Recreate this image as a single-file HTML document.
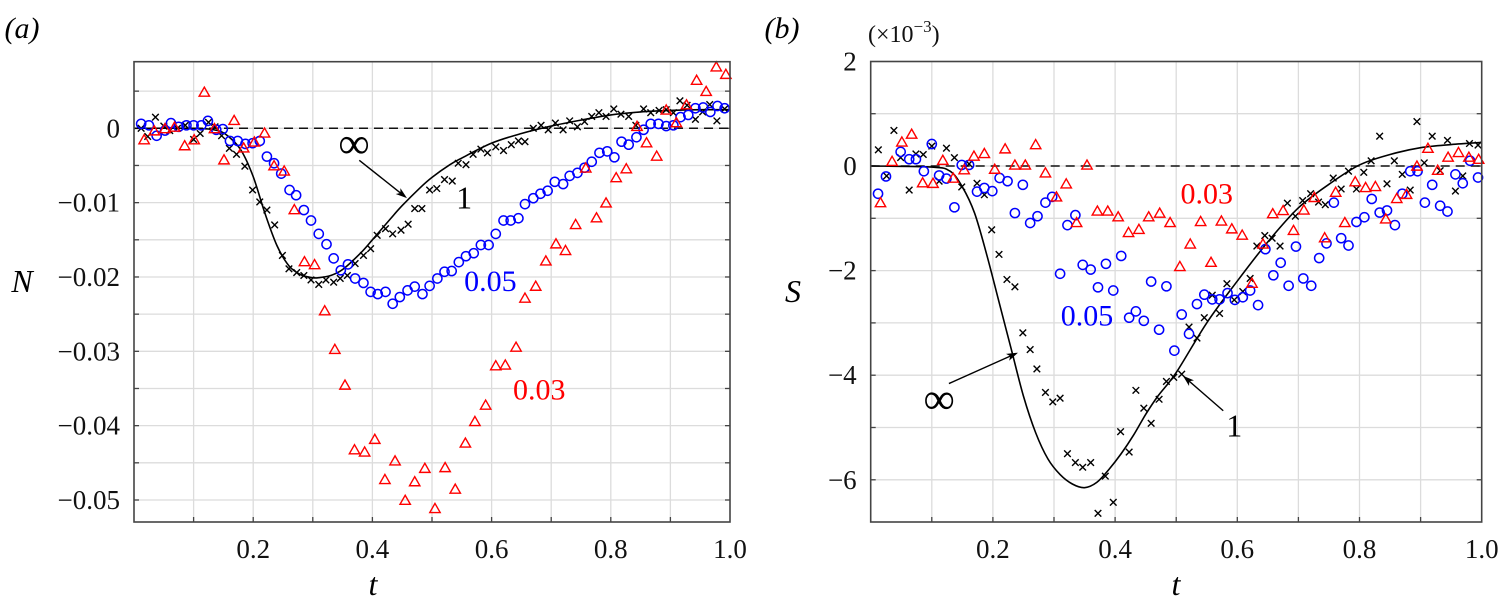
<!DOCTYPE html>
<html><head><meta charset="utf-8"><style>
html,body{margin:0;padding:0;background:#fff;}
svg text{font-family:"Liberation Serif","DejaVu Serif",serif;}
</style></head><body>
<svg id="fig" width="1503" height="611" viewBox="0 0 1503 611" font-family="Liberation Serif, serif"></svg>
<script>
// ---------- Panel (a) data ----------
const aCrossT=[0.012,0.023,0.036,0.05,0.06,0.073,0.086,0.1,0.111,0.125,0.136,0.147,0.16,0.172,0.186,0.199,0.211,0.223,0.236,0.249,0.26,0.273,0.285,0.297,0.31,0.322,0.335,0.346,0.358,0.371,0.385,0.397,0.408,0.422,0.434,0.448,0.46,0.471,0.483,0.496,0.508,0.521,0.534,0.544,0.557,0.569,0.582,0.593,0.607,0.62,0.633,0.645,0.656,0.67,0.683,0.695,0.707,0.72,0.731,0.744,0.756,0.768,0.78,0.792,0.805,0.817,0.83,0.842,0.855,0.867,0.881,0.893,0.905,0.916,0.928,0.942,0.954,0.966,0.978,0.991];
const aCrossV=[0,-0.0011,0.0015,0.0003,-0.0003,0,0.0004,-0.0015,-0.0007,0.0008,0.0002,-0.001,-0.0027,-0.0035,-0.0051,-0.0083,-0.0099,-0.011,-0.013,-0.0171,-0.0189,-0.0194,-0.0198,-0.0204,-0.021,-0.0204,-0.0207,-0.0202,-0.0198,-0.0182,-0.0171,-0.0162,-0.0144,-0.0135,-0.0142,-0.0137,-0.0129,-0.0108,-0.0108,-0.0083,-0.0081,-0.0069,-0.0071,-0.0047,-0.0049,-0.0035,-0.0028,-0.0033,-0.0025,-0.003,-0.0022,-0.0017,-0.0018,0,0.0004,-0.0002,0.0007,-0.0002,0.001,0.0002,0.0009,0.0016,0.0021,0.0016,0.0026,0.0019,0.0016,0.0004,0.0026,0.0021,0.0024,0.0025,0.0021,0.0037,0.0031,0.0012,0.0022,0.0032,0.001,0.0026];
const aCircT=[0.012,0.025,0.038,0.052,0.062,0.075,0.088,0.1,0.113,0.124,0.138,0.149,0.161,0.174,0.187,0.199,0.211,0.223,0.235,0.247,0.261,0.272,0.285,0.297,0.31,0.323,0.335,0.347,0.359,0.371,0.385,0.397,0.409,0.422,0.434,0.446,0.459,0.471,0.484,0.496,0.509,0.521,0.533,0.545,0.557,0.57,0.582,0.595,0.607,0.62,0.632,0.645,0.656,0.67,0.682,0.694,0.706,0.72,0.731,0.744,0.756,0.768,0.781,0.794,0.806,0.818,0.83,0.843,0.855,0.867,0.88,0.893,0.905,0.917,0.93,0.942,0.955,0.967,0.979,0.991];
const aCircV=[0.0006,0.0004,-0.001,-0.0003,0.0007,0.0002,0.0004,0.0004,0.0004,0.001,-0.0002,-0.0001,-0.0017,-0.0017,-0.0021,-0.002,-0.0017,-0.0038,-0.0047,-0.0061,-0.0083,-0.009,-0.011,-0.0124,-0.0142,-0.0156,-0.0175,-0.0191,-0.0183,-0.0202,-0.0208,-0.022,-0.0223,-0.022,-0.0236,-0.0227,-0.0218,-0.0213,-0.0223,-0.0212,-0.0202,-0.0193,-0.0192,-0.018,-0.0172,-0.0168,-0.0157,-0.0157,-0.0142,-0.0124,-0.0124,-0.0121,-0.0102,-0.0094,-0.0088,-0.0084,-0.0072,-0.0075,-0.0064,-0.006,-0.0053,-0.0045,-0.0033,-0.0031,-0.0039,-0.0018,-0.0022,-0.0012,-0.0002,0.0006,0.0006,0.0003,0.0004,0.0015,0.0018,0.0027,0.0028,0.0022,0.003,0.0027];
const aTriT=[0.017,0.034,0.052,0.068,0.085,0.101,0.118,0.135,0.151,0.168,0.184,0.202,0.219,0.235,0.252,0.269,0.286,0.303,0.32,0.337,0.354,0.37,0.387,0.404,0.421,0.438,0.455,0.471,0.488,0.505,0.522,0.539,0.556,0.572,0.59,0.607,0.623,0.641,0.656,0.674,0.691,0.708,0.724,0.741,0.758,0.776,0.792,0.809,0.826,0.844,0.86,0.877,0.893,0.91,0.927,0.944,0.96,0.977,0.993];
const aTriV=[-0.0016,-0.0004,-0.0001,0.0001,-0.0024,-0.0016,0.0048,-0.0001,-0.0043,0.001,-0.0027,-0.0019,-0.0007,-0.0051,-0.0058,-0.011,-0.018,-0.0184,-0.0246,-0.0298,-0.0346,-0.0433,-0.0436,-0.0419,-0.0473,-0.0448,-0.0501,-0.0476,-0.0458,-0.0512,-0.0457,-0.0486,-0.0424,-0.0395,-0.0373,-0.032,-0.0319,-0.0295,-0.0229,-0.0213,-0.0179,-0.0156,-0.0165,-0.013,-0.0054,-0.0121,-0.0101,-0.0067,-0.0055,0.0002,-0.002,-0.0038,0.0024,0.0007,0.0031,0.0064,0.0049,0.0082,0.0072];
const aCurveT=[0,0.1,0.14,0.16,0.18,0.2,0.22,0.24,0.26,0.28,0.3,0.31,0.33,0.35,0.38,0.4,0.43,0.45,0.48,0.5,0.53,0.55,0.6,0.65,0.7,0.75,0.8,0.85,0.9,0.95,1.0];
const aCurveV=[0,0,-0.0003,-0.0012,-0.003,-0.0065,-0.0115,-0.0158,-0.0185,-0.0197,-0.0201,-0.0201,-0.0198,-0.019,-0.0168,-0.015,-0.0122,-0.0104,-0.008,-0.0066,-0.0049,-0.004,-0.002,-0.0007,0.0003,0.0011,0.0018,0.0022,0.0024,0.0025,0.0025];
const aYTicks=[0,-0.01,-0.02,-0.03,-0.04,-0.05];
const aYTickLabels=["0","\u22120.01","\u22120.02","\u22120.03","\u22120.04","\u22120.05"];
const xTicks=[0.2,0.4,0.6,0.8,1.0];
const xTickLabels=["0.2","0.4","0.6","0.8","1.0"];

// ---------- Panel (b) data (×10^-3) ----------
const bCrossT=[0.0125,0.026,0.038,0.049,0.063,0.074,0.086,0.1,0.112,0.124,0.137,0.149,0.161,0.174,0.186,0.198,0.21,0.223,0.236,0.249,0.261,0.272,0.286,0.298,0.31,0.322,0.335,0.347,0.36,0.372,0.384,0.397,0.409,0.423,0.434,0.447,0.459,0.472,0.484,0.496,0.509,0.521,0.534,0.546,0.559,0.571,0.583,0.595,0.609,0.621,0.632,0.645,0.657,0.67,0.682,0.695,0.707,0.72,0.733,0.744,0.757,0.77,0.782,0.795,0.807,0.819,0.833,0.845,0.857,0.87,0.883,0.894,0.906,0.919,0.932,0.944,0.957,0.969,0.98,0.994];
const bCrossV=[0.31,-0.19,0.68,0.16,-0.46,0.23,0.22,0.38,-0.29,0.34,0.16,-0.4,0.04,-0.33,-0.55,-1.22,-1.69,-2.17,-2.31,-3.19,-3.51,-3.88,-4.33,-4.51,-4.44,-5.5,-5.67,-5.76,-5.67,-6.64,-5.93,-6.43,-5.08,-5.47,-4.29,-4.63,-4.92,-4.46,-4.12,-4.04,-3.98,-3.08,-3.29,-2.9,-2.47,-2.82,-2.25,-2.56,-2.4,-2.15,-1.53,-1.33,-1.38,-1.53,-0.71,-0.96,-0.66,-0.53,-0.69,-0.74,-0.23,-0.44,-0.1,-0.44,-0.12,0.1,0.57,-0.34,0.1,-0.16,-0.46,0.85,0.06,0.57,-0.09,0.49,-0.48,-0.19,0.43,0.4];
const bCircT=[0.012,0.025,0.049,0.063,0.074,0.087,0.1,0.112,0.124,0.137,0.149,0.161,0.174,0.186,0.199,0.211,0.224,0.236,0.249,0.261,0.273,0.286,0.297,0.31,0.322,0.335,0.347,0.36,0.372,0.385,0.397,0.41,0.423,0.434,0.447,0.459,0.472,0.484,0.497,0.509,0.521,0.534,0.546,0.559,0.571,0.584,0.596,0.609,0.621,0.634,0.646,0.659,0.671,0.684,0.696,0.708,0.721,0.734,0.746,0.758,0.77,0.782,0.795,0.808,0.82,0.833,0.845,0.858,0.87,0.883,0.895,0.907,0.919,0.932,0.944,0.957,0.969,0.981,0.994];
const bCircV=[-0.53,-0.2,0.27,0.13,0.13,-0.1,0.42,-0.18,-0.24,-0.79,0.02,0.02,-0.49,-0.42,-0.48,-0.23,-0.29,-0.9,-0.36,-1.09,-0.96,-0.7,-0.59,-2.06,-1.13,-0.94,-1.89,-1.98,-2.32,-1.87,-2.38,-1.72,-2.9,-2.78,-2.96,-2.21,-3.13,-2.3,-3.53,-2.84,-3.21,-2.64,-2.46,-2.55,-2.55,-2.43,-2.56,-2.51,-2.38,-2.66,-1.59,-2.09,-1.85,-2.29,-1.54,-2.15,-2.29,-1.76,-1.48,-0.7,-1.38,-1.52,-1.07,-0.98,-0.63,-0.89,-0.85,-1.13,-0.53,-0.1,-0.1,-0.7,-0.36,-0.76,-0.87,-0.16,-0.33,0.1,-0.22];
const bTriT=[0.016,0.035,0.051,0.067,0.085,0.102,0.118,0.135,0.153,0.169,0.186,0.203,0.22,0.236,0.253,0.27,0.286,0.304,0.32,0.337,0.354,0.371,0.388,0.405,0.422,0.439,0.455,0.473,0.49,0.506,0.523,0.54,0.557,0.574,0.591,0.608,0.624,0.642,0.658,0.675,0.692,0.709,0.726,0.743,0.761,0.776,0.793,0.81,0.826,0.843,0.861,0.877,0.894,0.912,0.928,0.945,0.962,0.979,0.995];
const bTriV=[-0.71,0.08,0.45,0.6,-0.33,-0.34,0.1,-0.24,-0.08,0.18,0.23,-0.07,0.32,0.01,0.01,0.4,-0.14,-0.6,-0.35,-1.09,0.01,-0.87,-0.87,-0.98,-1.28,-1.22,-0.98,-0.91,-1.09,-1.93,-1.5,-1.07,-1.85,-1.06,-1.21,-1.33,-2.25,-1.5,-0.92,-0.86,-1.24,-0.85,-0.61,-1.38,-0.51,-1.09,-0.31,-0.42,-0.4,-1.02,-0.63,-0.55,-0.01,0.33,-0.09,0.16,0.25,0.16,0.12];
const bCurveT=[0,0.1,0.13,0.15,0.17,0.19,0.21,0.23,0.25,0.27,0.29,0.31,0.33,0.35,0.37,0.39,0.41,0.43,0.45,0.47,0.5,0.55,0.6,0.65,0.7,0.75,0.8,0.85,0.9,0.95,1.0];
const bCurveV=[0,-0.02,-0.1,-0.4,-0.9,-1.7,-2.6,-3.5,-4.4,-5.1,-5.6,-5.9,-6.08,-6.15,-6.05,-5.8,-5.5,-5.15,-4.75,-4.4,-3.95,-3.0,-2.2,-1.45,-0.8,-0.35,0.02,0.22,0.35,0.41,0.45];
const bYTicks=[2,0,-2,-4,-6];
const bYTickLabels=["2","0","\u22122","\u22124","\u22126"];

const NS="http://www.w3.org/2000/svg";
const FONT='"Liberation Serif", "DejaVu Serif", serif';
const svg=document.getElementById('fig');
function mk(tag,attrs,parent){const e=document.createElementNS(NS,tag);for(const k in attrs)e.setAttribute(k,attrs[k]);if(tag==='text')e.style.fontFamily=FONT;(parent||svg).appendChild(e);return e;}

const A={x0:134,x1:730,y0:61.7,y1:522,tmin:0,tmax:1,vZero:128.3,vScale:7434};
const B={x0:870.7,x1:1481.7,y0:61.5,y1:522,tmin:0,tmax:1,vZero:166,vScale:52.3};
function X(P,t){return P.x0+(t-P.tmin)/(P.tmax-P.tmin)*(P.x1-P.x0);}
function Y(P,v){return P.vZero-v*P.vScale;}

function panel(P,name,gridV,yTicks,yLabels){
  const g=mk('g',{});
  
  
  for(let t=0.1;t<0.999;t+=0.1){
    const x=X(P,t);
    const l=mk('line',{x1:x,x2:x,y1:P.y0,y2:P.y1,stroke:'#dcdcdc','stroke-width':1.3},g);
    
    
    const tk=mk('line',{x1:x,x2:x,y1:P.y1,y2:P.y1-5,stroke:'#444','stroke-width':1.3},g);
    
    
  }
  for(const v of gridV){
    const y=Y(P,v);
    if(y<=P.y0+1||y>=P.y1-1)continue;
    const l=mk('line',{x1:P.x0,x2:P.x1,y1:y,y2:y,stroke:'#dcdcdc','stroke-width':1.3},g);
    
    
    const tk=mk('line',{x1:P.x0,x2:P.x0+5,y1:y,y2:y,stroke:'#444','stroke-width':1.3},g);
    
    
    const tk2=mk('line',{x1:P.x1,x2:P.x1-5,y1:y,y2:y,stroke:'#444','stroke-width':1.3},g);
    
    
  }
  const z=mk('line',{x1:P.x0,x2:P.x1,y1:Y(P,0),y2:Y(P,0),stroke:'#111','stroke-width':1.5,'stroke-dasharray':'9,6'},g);
  
  
  yTicks.forEach((v,i)=>{
    const t=mk('text',{x:P.x0-14,y:Y(P,v)+9,'font-size':27,'text-anchor':'end',fill:'#111'},g);
    t.textContent=yLabels[i];
    
    
  });
  xTicks.forEach((v,i)=>{
    const t=mk('text',{x:X(P,v),y:558,'font-size':27,'text-anchor':'middle',fill:'#111'},g);
    t.textContent=xTickLabels[i];
    
    
  });
  return g;
}
function border(P){
  const r=mk('rect',{x:P.x0,y:P.y0,width:P.x1-P.x0,height:P.y1-P.y0,fill:'none',stroke:'#444','stroke-width':1.6});
  
  
}
function curve(P,T,V){
  const pts=T.map((t,i)=>[X(P,t),Y(P,V[i])]);
  let d='M'+pts[0][0]+','+pts[0][1];
  for(let i=0;i<pts.length-1;i++){
    const p0=pts[Math.max(0,i-1)],p1=pts[i],p2=pts[i+1],p3=pts[Math.min(pts.length-1,i+2)];
    const c1=[p1[0]+(p2[0]-p0[0])/6,p1[1]+(p2[1]-p0[1])/6];
    const c2=[p2[0]-(p3[0]-p1[0])/6,p2[1]-(p3[1]-p1[1])/6];
    d+=' C'+c1+' '+c2+' '+p2;
  }
  const p=mk('path',{d:d,fill:'none',stroke:'#000','stroke-width':1.6});
  
  
}
function crosses(P,T,V){
  T.forEach((t,i)=>{
    const x=X(P,t),y=Y(P,V[i]),s=3.3;
    const p=mk('path',{d:`M${x-s},${y-s}L${x+s},${y+s}M${x-s},${y+s}L${x+s},${y-s}`,stroke:'#000','stroke-width':1.4,fill:'none'});
    
    
  });
}
function circles(P,T,V){
  T.forEach((t,i)=>{
    const c=mk('circle',{cx:X(P,t),cy:Y(P,V[i]),r:4.6,fill:'none',stroke:'#0000ff','stroke-width':1.5});
    
    
  });
}
function tris(P,T,V){
  T.forEach((t,i)=>{
    const x=X(P,t),y=Y(P,V[i]);
    const p=mk('path',{d:`M${x},${y-5.5}L${x+5.2},${y+3.6}L${x-5.2},${y+3.6}Z`,fill:'none',stroke:'#ff0000','stroke-width':1.4});
    
    
  });
}
function label(x,y,txt,color,size,name,style){
  const t=mk('text',{x:x,y:y,'font-size':size,fill:color,'text-anchor':'middle'});
  if(style)t.setAttribute('font-style',style);
  t.textContent=txt;
  
  
  return t;
}
function arrow(x1,y1,x2,y2,name){
  const a=Math.atan2(y2-y1,x2-x1),L=12,w=0.32;
  const l=mk('line',{x1:x1,y1:y1,x2:x2-Math.cos(a)*6,y2:y2-Math.sin(a)*6,stroke:'#000','stroke-width':1.4});
  
  
  const h=mk('path',{d:`M${x2},${y2}L${x2-L*Math.cos(a-w)},${y2-L*Math.sin(a-w)}L${x2-L*0.7*Math.cos(a)},${y2-L*0.7*Math.sin(a)}L${x2-L*Math.cos(a+w)},${y2-L*Math.sin(a+w)}Z`,fill:'#000'});
  
  
}

// Panel a
panel(A,'panel-a',[0.005,0,-0.005,-0.01,-0.015,-0.02,-0.025,-0.03,-0.035,-0.04,-0.045,-0.05],aYTicks,aYTickLabels);
curve(A,aCurveT,aCurveV);
crosses(A,aCrossT,aCrossV);
circles(A,aCircT,aCircV);
tris(A,aTriT,aTriV);
border(A);
label(354,158,'\u221e','#000',44,'infinity-label-a');
arrow(X(A,0.378),Y(A,-0.0043),X(A,0.458),Y(A,-0.0094),'infinity-arrow-a');
label(X(A,0.554),Y(A,-0.0092)+12,'1','#000',32,'re1-label-a');
label(X(A,0.598),Y(A,-0.0204)+11,'0.05','#0000ff',30,'re005-label-a');
label(X(A,0.68),Y(A,-0.035)+11,'0.03','#ff0000',30,'re003-label-a');
label(22,38,'(a)','#000',30,'panel-a-tag','italic');
label(22,292,'N','#000',32,'y-axis-title-a','italic');
label(373,595,'t','#000',32,'x-axis-title-a','italic');

// Panel b
panel(B,'panel-b',[1,0,-1,-2,-3,-4,-5,-6],bYTicks,bYTickLabels);
curve(B,bCurveT,bCurveV);
crosses(B,bCrossT,bCrossV);
circles(B,bCircT,bCircV);
tris(B,bTriT,bTriV);
border(B);
label(X(B,0.112),Y(B,-4.5)+12,'\u221e','#000',44,'infinity-label-b');
arrow(X(B,0.128),Y(B,-4.16),X(B,0.241),Y(B,-3.57),'infinity-arrow-b');
label(X(B,0.595),Y(B,-4.94)+12,'1','#000',32,'re1-label-b');
arrow(X(B,0.577),Y(B,-4.68),X(B,0.511),Y(B,-4.01),'re1-arrow-b');
label(X(B,0.354),Y(B,-2.84)+11,'0.05','#0000ff',30,'re005-label-b');
label(X(B,0.55),Y(B,-0.51)+11,'0.03','#ff0000',30,'re003-label-b');
label(782,38,'(b)','#000',30,'panel-b-tag','italic');
const sc=mk('text',{x:868,y:42,'font-size':24,fill:'#111'});


sc.innerHTML='(\u00d710<tspan dy="-10" font-size="17">\u22123</tspan><tspan dy="10">)</tspan>';
label(793,302,'S','#000',32,'y-axis-title-b','italic');
label(1176,595,'t','#000',32,'x-axis-title-b','italic');
</script>
</body></html>
